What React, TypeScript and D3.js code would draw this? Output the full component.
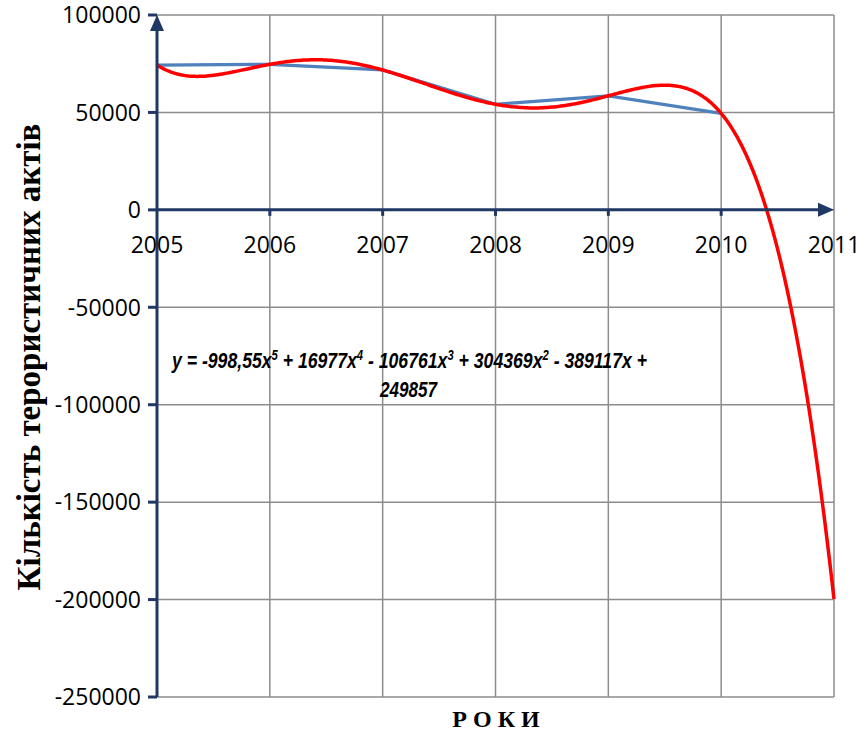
import React from "react";
import * as d3 from "d3";

const years = [2005, 2006, 2007, 2008, 2009, 2010];
const values = [74300, 74700, 71800, 54200, 58500, 49500];
const xTicks = [2005, 2006, 2007, 2008, 2009, 2010, 2011];
const yTicks = [100000, 50000, 0, -50000, -100000, -150000, -200000, -250000];
// trendline coefficients as printed on the chart (x^5 .. x^0), x = 1 for 2005
const trendCoef = [-998.55, 16977, -106761, 304369, -389117, 249857];
const eqParts: [string, string][] = [
  ["y = -998,55x", "5"],
  [" + 16977x", "4"],
  [" - 106761x", "3"],
  [" + 304369x", "2"],
  [" - 389117x +", ""],
];
const eqLine2 = "249857";

const W = 867, H = 731;
const left = 157, right = 834, top = 15, bottom = 697;

export default function App() {
  const x = d3.scaleLinear().domain([2005, 2011]).range([left, right]);
  const y = d3.scaleLinear().domain([-250000, 100000]).range([bottom, top]);
  const line = d3.line<[number, number]>().x(d => x(d[0])).y(d => y(d[1]));
  const data: [number, number][] = years.map((yr, i) => [yr, values[i]]);
  const evalTrend = (t: number) => trendCoef.reduce((acc, c) => acc * t + c, 0);
  const trendPts: [number, number][] = d3.range(0, 301).map(i => {
    const t = 1 + (6 * i) / 300;
    return [2004 + t, evalTrend(t)];
  });
  const axisColor = "#1F3864";
  const gridColor = "#8C8C8C";
  const font = "'Open Sans', 'Liberation Sans', sans-serif";
  const eqFont = "'Liberation Sans', Arial, sans-serif";
  return (
    <svg width={W} height={H} style={{ position: "absolute", left: 0, top: 0 }}>
      <rect width={W} height={H} fill="#fff" />
      {yTicks.map(t => (
        <line key={"gy" + t} x1={left} x2={right} y1={y(t)} y2={y(t)} stroke={gridColor} strokeWidth={1.5} />
      ))}
      {xTicks.map(t => (
        <line key={"gx" + t} x1={x(t)} x2={x(t)} y1={top} y2={bottom} stroke={gridColor} strokeWidth={1.5} />
      ))}
      <path d={line(data) || ""} fill="none" stroke="#4F81BD" strokeWidth={3.2} />
      <path d={line(trendPts) || ""} fill="none" stroke="#FF0000" strokeWidth={3.5} />
      <line x1={left} x2={left} y1={bottom} y2={top + 14} stroke={axisColor} strokeWidth={3} />
      <path d={`M${left},${top} L${left - 7},${top + 16} L${left + 7},${top + 16} Z`} fill={axisColor} />
      {yTicks.map(t => (
        <line key={"ty" + t} x1={left - 9} x2={left} y1={y(t)} y2={y(t)} stroke={axisColor} strokeWidth={3} />
      ))}
      {yTicks.map(t => (
        <text key={"ly" + t} x={141} y={y(t)} dy="0.36em" textAnchor="end" fontFamily={font} fontSize={23} fill="#000">
          {t}
        </text>
      ))}
      <line x1={left} x2={right - 14} y1={y(0)} y2={y(0)} stroke={axisColor} strokeWidth={3} />
      <path d={`M${right},${y(0)} L${right - 16},${y(0) - 7} L${right - 16},${y(0) + 7} Z`} fill={axisColor} />
      {xTicks.slice(1, -1).map(t => (
        <line key={"tx" + t} x1={x(t)} x2={x(t)} y1={y(0)} y2={y(0) + 6} stroke={axisColor} strokeWidth={3} />
      ))}
      {xTicks.map(t => (
        <text key={"lx" + t} x={x(t)} y={253} textAnchor="middle" fontFamily={font} fontSize={23} fill="#000">
          {t}
        </text>
      ))}
      <text x={172} y={368} textLength={475} lengthAdjust="spacingAndGlyphs" fontFamily={eqFont} fontWeight="bold" fontStyle="italic" fontSize={22} fill="#000">
        {eqParts.map(([base, sup], i) => (
          <React.Fragment key={i}>
            <tspan dy={i > 0 && eqParts[i - 1][1] ? 8 : 0}>{base}</tspan>
            {sup ? <tspan fontSize={14} dy={-8}>{sup}</tspan> : null}
          </React.Fragment>
        ))}
      </text>
      <text x={380} y={397} textLength={57} lengthAdjust="spacingAndGlyphs" fontFamily={eqFont} fontWeight="bold" fontStyle="italic" fontSize={22} fill="#000">
        {eqLine2}
      </text>
      <text x={496} y={727} textAnchor="middle" fontFamily="'Liberation Serif', serif" fontWeight="bold" fontSize={24} fill="#000">
        Р О К И
      </text>
      <text transform={`translate(40,357) rotate(-90)`} textAnchor="middle" fontFamily="'Liberation Serif', serif" fontWeight="bold" fontSize={33} fill="#000">
        Кількість терористичних актів
      </text>
    </svg>
  );
}
